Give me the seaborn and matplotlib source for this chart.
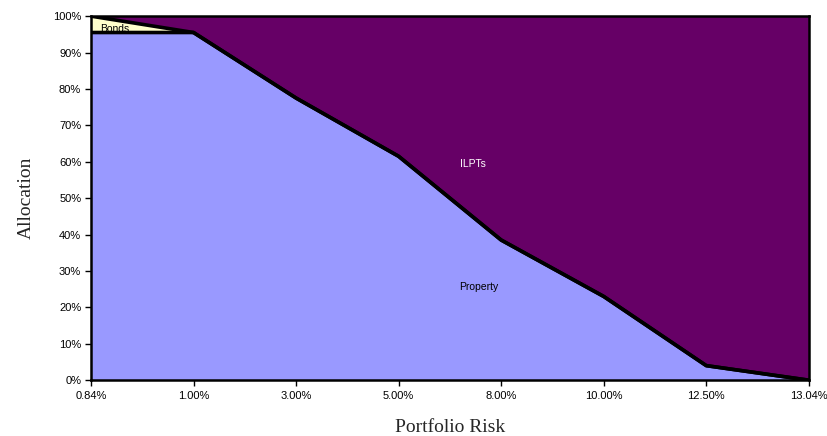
import numpy as np
import pandas as pd
import matplotlib
matplotlib.use("Agg")
import matplotlib.pyplot as plt
import seaborn as sns

# Efficient-frontier style allocation across portfolio risk levels (%)
risk_labels = ["0.84%", "1.00%", "3.00%", "5.00%", "8.00%", "10.00%", "12.50%", "13.04%"]
property_alloc = [95.5, 95.5, 77.5, 61.5, 38.5, 23.0, 4.0, 0.0]
bonds_alloc = [4.5, 0.0, 0.0, 0.0, 0.0, 0.0, 0.0, 0.0]
ilpts_alloc = [0.0, 4.5, 22.5, 38.5, 61.5, 77.0, 96.0, 100.0]

sns.set_theme(style="white")
plt.rcParams["font.family"] = ["Liberation Sans", "DejaVu Sans"]

x = np.arange(len(risk_labels))
prop = np.array(property_alloc)
bonds = np.array(bonds_alloc)
ilpts = np.array(ilpts_alloc)

fig = plt.figure(figsize=(8.27, 4.36), dpi=100)
ax = fig.add_axes([0.110, 0.128, 0.868, 0.835])

ax.stackplot(x, prop, bonds, ilpts,
             colors=["#9999FF", "#FFFFCC", "#660066"], linewidth=0)

# Black boundaries between stacked layers
bounds = pd.DataFrame({
    "x": np.concatenate([x, x]),
    "y": np.concatenate([prop, prop + bonds]),
    "layer": ["property"] * len(x) + ["bonds"] * len(x),
})
sns.lineplot(data=bounds, x="x", y="y", units="layer", estimator=None,
             color="black", linewidth=2.6, ax=ax, legend=False)

ax.set_xlim(0, len(x) - 1)
ax.set_ylim(0, 100)
ax.set_xticks(x)
ax.set_xticklabels(risk_labels)
ax.set_yticks(np.arange(0, 101, 10))
ax.set_yticklabels([f"{v}%" for v in range(0, 101, 10)])
ax.tick_params(axis="both", direction="out", length=4, width=1, colors="black",
               labelsize=8, bottom=True, left=True, pad=3)
ax.tick_params(axis="x", pad=4)

for side in ["top", "right", "bottom", "left"]:
    ax.spines[side].set_visible(True)
    ax.spines[side].set_color("black")
    ax.spines[side].set_linewidth(1.8)

ax.set_xlabel("Portfolio Risk", fontsize=14, family=["Liberation Serif"], labelpad=13)
ax.set_ylabel("Allocation", fontsize=14, family=["Liberation Serif"], labelpad=13)

ax.text(0.09, 96.6, "Bonds", fontsize=7.5, color="black", va="center", ha="left")
ax.text(3.72, 59.3, "ILPTs", fontsize=7.5, color="white", va="center", ha="center")
ax.text(3.78, 25.6, "Property", fontsize=7.5, color="black", va="center", ha="center")

fig.savefig("out.png", dpi=100, facecolor="white")
